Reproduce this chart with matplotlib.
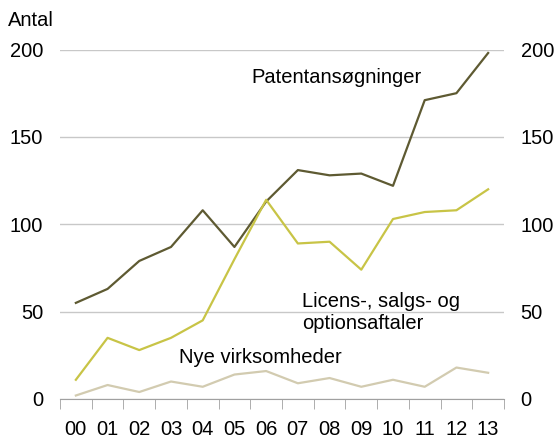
import matplotlib.pyplot as plt
import numpy as np

plt.rcParams['font.family'] = ['Liberation Sans', 'DejaVu Sans']

years = ['00', '01', '02', '03', '04', '05', '06', '07', '08', '09', '10', '11', '12', '13']
patent = [55, 63, 79, 87, 108, 87, 113, 131, 128, 129, 122, 171, 175, 198]
licens = [11, 35, 28, 35, 45, 80, 114, 89, 90, 74, 103, 107, 108, 120]
nye = [2, 8, 4, 10, 7, 14, 16, 9, 12, 7, 11, 7, 18, 15]

x = np.arange(len(years))

fig = plt.figure(figsize=(5.58, 4.38), dpi=100)
ax = fig.add_axes([60 / 558, 1 - 399 / 438, 444 / 558, 349.5 / 438])

ax.plot(x, patent, color='#5e5a32', lw=1.6)
ax.plot(x, licens, color='#c8c446', lw=1.6)
ax.plot(x, nye, color='#d2cbb0', lw=1.6)

ax.set_xlim(-0.5, len(years) - 0.5)
ax.set_ylim(0, 200)
ax.set_yticks([0, 50, 100, 150, 200])
ax.yaxis.grid(True, color='#c8c8c8', lw=1)
ax.set_axisbelow(True)

for s in ['top', 'left', 'right']:
    ax.spines[s].set_visible(False)
ax.spines['bottom'].set_color('#a0a0a0')

ax.set_xticks(x)
ax.set_xticklabels(years)
ax.set_xticks(np.arange(-0.5, len(years)), minor=True)
ax.tick_params(axis='x', which='major', length=0, pad=15, labelsize=14.5)
ax.tick_params(axis='x', which='minor', length=7, color='#a0a0a0', direction='out')
ax.tick_params(axis='y', length=0, labelsize=14.5, pad=12, labelright=True)

fig.text(8 / 558, 1 - 20 / 438, 'Antal', fontsize=14.5, ha='left', va='center')

ax.text(5.55, 184, 'Patentansøgninger', fontsize=14.5, va='center', ha='left')
ax.text(7.13, 49.5, 'Licens-, salgs- og\noptionsaftaler', fontsize=14.5, va='center',
        ha='left', linespacing=1.2)
ax.text(3.25, 23.5, 'Nye virksomheder', fontsize=14.5, va='center', ha='left')

fig.savefig('out.png', dpi=100)
